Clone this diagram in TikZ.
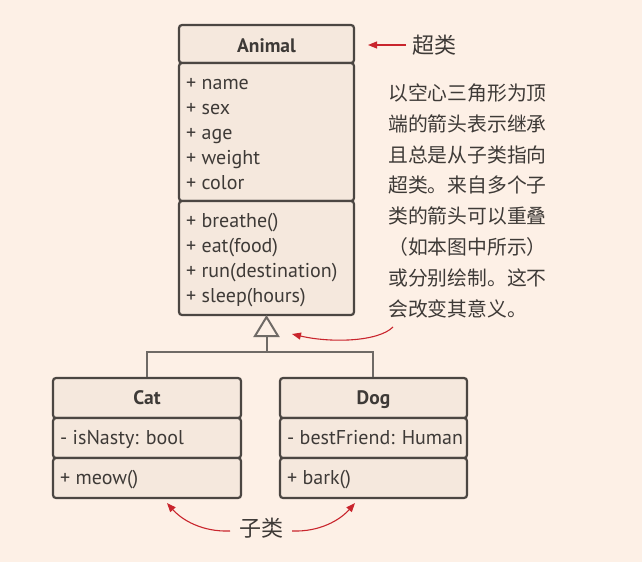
\documentclass[tikz,border=0pt]{standalone}
\usepackage{fontspec}
\setmainfont{PT Sans}
\newfontfamily\cjk{Noto Sans CJK SC}
\usetikzlibrary{arrows.meta}
\definecolor{bg}{HTML}{FDF0E6}
\definecolor{boxfill}{HTML}{F5E8DD}
\definecolor{boxline}{HTML}{4B4642}
\definecolor{txt}{HTML}{3E3A37}
\definecolor{conn}{HTML}{6F6A66}
\definecolor{redc}{HTML}{C9252D}
\tikzset{
  comp/.style={draw=boxline, fill=boxfill, line width=2.2pt, rounded corners=3pt},
  ttl/.style={anchor=base, font=\fontsize{19.5}{19.5}\selectfont\bfseries, text=txt, inner sep=0pt},
  mem/.style={anchor=base west, font=\fontsize{20}{20}\selectfont, text=txt, inner sep=0pt},
  cjktext/.style={anchor=base west, font=\cjk\fontsize{19.8}{19.8}\selectfont, text=txt, inner sep=0pt},
  cjklabel/.style={anchor=base, font=\cjk\fontsize{22}{22}\selectfont, text=txt, inner sep=0pt},
  inh/.style={draw=conn, line width=2pt},
  redarrow/.style={draw=redc, line width=1.1pt, -{Triangle[length=9pt,width=7pt]}},
}
\begin{document}
\begin{tikzpicture}[x=1pt,y=-1pt]
\fill[bg] (0,0) rectangle (642,562);
\useasboundingbox (0,0) rectangle (642,562);

% Animal
\draw[comp] (179,25) rectangle (354,63);
\draw[comp] (179,63) rectangle (354,201);
\draw[comp] (179,201) rectangle (354,315);
\node[ttl] (animal) at (266.5,52) {Animal};
\node[mem] (a1) at (186,89) {+ name};
\node[mem] (a2) at (186,114) {+ sex};
\node[mem] (a3) at (186,139) {+ age};
\node[mem] (a4) at (186,164) {+ weight};
\node[mem] (a5) at (186,189) {+ color};
\node[mem] (m1) at (186,227.5) {+ breathe()};
\node[mem] (m2) at (186,252.5) {+ eat(food)};
\node[mem] (m3) at (186,277.5) {+ run(destination)};
\node[mem] (m4) at (186,302.5) {+ sleep(hours)};
\coordinate (animalbottom) at (266.5,317);

% Cat
\draw[comp] (53,378) rectangle (241,418);
\draw[comp] (53,418) rectangle (241,458);
\draw[comp] (53,458) rectangle (241,498);
\node[ttl] (cat) at (147,404) {Cat};
\node[mem] (c1) at (60,444) {- isNasty: bool};
\node[mem] (c2) at (60,484) {+ meow()};

% Dog
\draw[comp] (280,378) rectangle (467,418);
\draw[comp] (280,418) rectangle (467,458);
\draw[comp] (280,458) rectangle (467,498);
\node[ttl] (dog) at (373.5,404) {Dog};
\node[mem] (d1) at (287,444) {- bestFriend: Human};
\node[mem] (d2) at (287,484) {+ bark()};

% inheritance
\coordinate (catTop) at (147,377);
\coordinate (dogTop) at (373,377);
\coordinate (triBase) at (266.5,336);
\draw[inh] (catTop) |- (266.5,352) -| (dogTop);
\draw[inh] (266.5,352) -- (triBase);
\draw[inh, fill=bg, line join=miter] (animalbottom) -- (278,336) -- (255,336) -- cycle;

% labels
\node[cjklabel] (super) at (434.5,53.5) {超类};
\coordinate (superarrowstart) at (406,45);
\coordinate (superarrowend) at (368,45);
\draw[redarrow] (superarrowstart) -- (superarrowend);

\node[cjktext] (t1) at (388,100.5) {以空心三角形为顶};
\node[cjktext] (t2) at (388,131.3) {端的箭头表示继承};
\node[cjktext] (t3) at (388,162.1) {且总是从子类指向};
\node[cjktext] (t4) at (388,192.9) {超类。来自多个子};
\node[cjktext] (t5) at (388,223.7) {类的箭头可以重叠};
\node[cjktext] (t6) at (388,254.5) {（如本图中所示）};
\node[cjktext] (t7) at (388,285.3) {或分别绘制。这不};
\node[cjktext] (t8) at (388,316.1) {会改变其意义。};
\coordinate (noteend) at (393,327);
\coordinate (triarrow) at (292,334);
\draw[redarrow] (noteend) .. controls (378,342) and (330,343) .. (triarrow);

\node[cjklabel] (sub) at (261,536) {子类};
\coordinate (subL) at (230,531);
\coordinate (subR) at (292,531);
\coordinate (catArrow) at (167,503);
\coordinate (dogArrow) at (355,503);
\draw[redarrow] (subL) .. controls (202,532) and (182,520) .. (catArrow);
\draw[redarrow] (subR) .. controls (320,532) and (340,520) .. (dogArrow);
\end{tikzpicture}
\end{document}
